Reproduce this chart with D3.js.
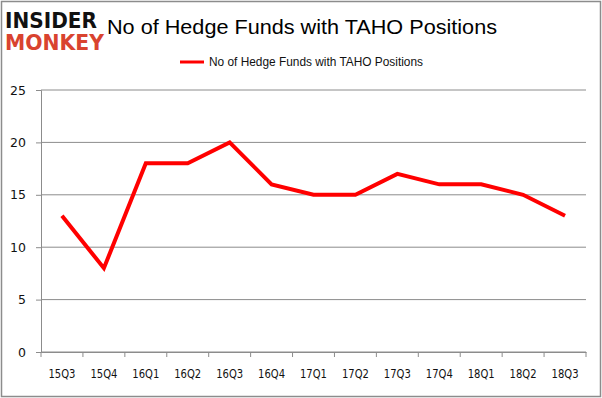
<!DOCTYPE html>
<html>
<head>
<meta charset="utf-8">
<script src="https://cdn.jsdelivr.net/npm/d3@7"></script>
<style>
  body { margin: 0; background: #fff; }
  svg text { font-family: "Liberation Sans", Arial, sans-serif; }
</style>
</head>
<body>
<div id="chart"></div>
<script>
// chart values
const quarters = ["15Q3", "15Q4", "16Q1", "16Q2", "16Q3", "16Q4", "17Q1", "17Q2", "17Q3", "17Q4", "18Q1", "18Q2", "18Q3"];
const funds = [13, 8, 18, 18, 20, 16, 15, 15, 17, 16, 16, 15, 13];
const yTicks = [0, 5, 10, 15, 20, 25];
const seriesName = "No of Hedge Funds with TAHO Positions";

const W = 602, H = 398;
const margin = {top: 90, right: 16, bottom: 46, left: 41};
const width = W - margin.left - margin.right;
const height = H - margin.top - margin.bottom;

const svg = d3.select("#chart").append("svg")
    .attr("width", W)
    .attr("height", H);

// outer frame
svg.append("rect")
    .attr("x", 1.5).attr("y", 1.5)
    .attr("width", W - 3).attr("height", H - 3)
    .attr("fill", "none")
    .attr("stroke", "#8c8c8c")
    .attr("stroke-width", 1.5);

// logo
svg.append("text")
    .attr("x", 5).attr("y", 28)
    .style("font-family", "'DejaVu Sans', sans-serif")
    .style("font-weight", "900")
    .style("font-size", "21px")
    .attr("textLength", 92)
    .attr("lengthAdjust", "spacingAndGlyphs")
    .attr("fill", "#111")
    .text("INSIDER");
svg.append("text")
    .attr("x", 5).attr("y", 50)
    .style("font-family", "'DejaVu Sans', sans-serif")
    .style("font-weight", "900")
    .style("font-size", "21px")
    .attr("textLength", 99)
    .attr("lengthAdjust", "spacingAndGlyphs")
    .attr("fill", "#d9432f")
    .text("MONKEY");

// title
svg.append("text")
    .attr("x", 302).attr("y", 34)
    .attr("text-anchor", "middle")
    .style("font-size", "20px")
    .attr("textLength", 390)
    .attr("lengthAdjust", "spacingAndGlyphs")
    .attr("fill", "#000")
    .text(seriesName);

// legend
svg.append("line")
    .attr("x1", 180).attr("x2", 204)
    .attr("y1", 62).attr("y2", 62)
    .attr("stroke", "#ff0000")
    .attr("stroke-width", 3);
svg.append("text")
    .attr("x", 209).attr("y", 66)
    .style("font-size", "12px")
    .attr("textLength", 214)
    .attr("lengthAdjust", "spacingAndGlyphs")
    .attr("fill", "#111")
    .text(seriesName);

const g = svg.append("g")
    .attr("transform", `translate(${margin.left},${margin.top})`);

const x = d3.scaleBand()
    .domain(quarters)
    .range([0, width]);

const y = d3.scaleLinear()
    .domain([0, 25])
    .range([height, 0]);

// gridlines
g.selectAll(".grid")
    .data(yTicks)
    .join("line")
    .attr("class", "grid")
    .attr("x1", 0).attr("x2", width)
    .attr("y1", d => y(d)).attr("y2", d => y(d))
    .attr("stroke", "#8c8c8c")
    .attr("stroke-width", 1);

// y axis
const yAxis = g.append("g")
    .call(d3.axisLeft(y).tickValues(yTicks).tickSize(5).tickPadding(10));
yAxis.select(".domain").attr("stroke", "#8c8c8c");
yAxis.selectAll(".tick line").attr("stroke", "#8c8c8c");
yAxis.selectAll("text")
    .style("font-size", "12.5px")
    .style("font-family", "'DejaVu Sans', sans-serif")
    .attr("fill", "#111");

// x axis
const xAxis = g.append("g")
    .attr("transform", `translate(0,${height})`)
    .call(d3.axisBottom(x).tickSize(0).tickPadding(17));
xAxis.select(".domain").attr("stroke", "#8c8c8c");
xAxis.selectAll("text")
    .style("font-size", "12px")
    .style("font-family", "'DejaVu Sans', sans-serif")
    .attr("textLength", 27)
    .attr("lengthAdjust", "spacingAndGlyphs")
    .attr("fill", "#111");

// category boundary ticks
const bounds = quarters.map(q => x(q)).concat([width]);
g.selectAll(".xtick")
    .data(bounds)
    .join("line")
    .attr("class", "xtick")
    .attr("x1", d => d).attr("x2", d => d)
    .attr("y1", height).attr("y2", height + 5)
    .attr("stroke", "#8c8c8c");

// series line
const line = d3.line()
    .x((d, i) => x(quarters[i]) + x.bandwidth() / 2)
    .y(d => y(d));

g.append("path")
    .datum(funds)
    .attr("fill", "none")
    .attr("stroke", "#ff0000")
    .attr("stroke-width", 4)
    .attr("stroke-linejoin", "miter")
    .attr("d", line);
</script>
</body>
</html>
